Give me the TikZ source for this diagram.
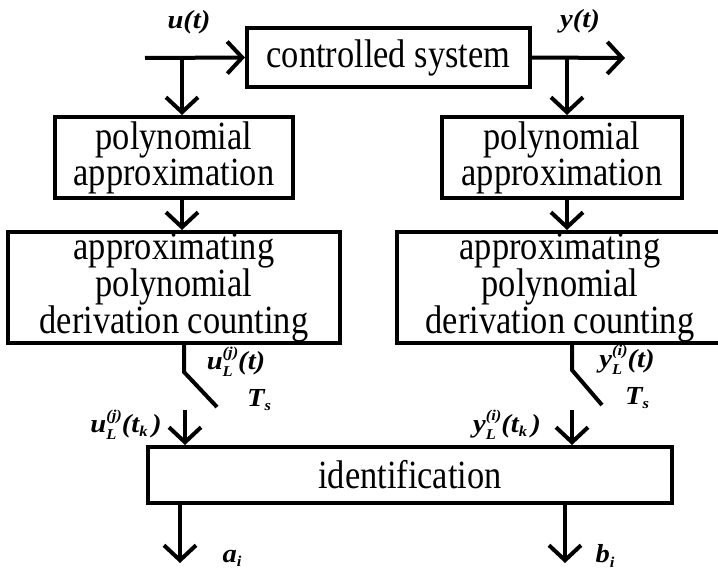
\documentclass[tikz,border=0pt]{standalone}
\usepackage{fontspec}
\setmainfont{Liberation Serif}
\newfontfamily\boxfont[FakeStretch=0.86]{Liberation Serif}
\newfontfamily\labfont[FakeStretch=1.1]{Liberation Serif}
\usetikzlibrary{arrows.meta}
\newcommand\smallsz{\fontsize{15}{15}\selectfont}
\newcommand\lsl[3]{#1\rlap{\raisebox{-0.6ex}{\smallsz #3}}\raisebox{1.0ex}{\smallsz #2}}
\newcommand\lsub[1]{\raisebox{-0.35ex}{\smallsz #1}}
\begin{document}
\begin{tikzpicture}[x=1pt,y=-1pt,
  line/.style={line width=4pt},
  arr/.style={line width=4pt,-{Straight Barb[length=15pt,width=32pt]}},
  blk/.style={draw,line width=4pt,inner sep=0pt,align=center,
    font=\boxfont\fontsize{40}{36}\selectfont},
  lab/.style={inner sep=0pt,font=\labfont\bfseries\itshape\fontsize{26}{28}\selectfont}]
\clip (0,0) rectangle (718,570);
% blocks
\node[blk,minimum width=283pt,minimum height=59pt] (sys) at (388.5,57.5) {controlled system};
\node[blk,minimum width=238pt,minimum height=81pt,font=\boxfont\fontsize{40}{33}\selectfont] (pl) at (174,157.5) {polynomial\\approximation};
\node[blk,minimum width=240pt,minimum height=81pt,font=\boxfont\fontsize{40}{33}\selectfont] (pr) at (562,157.5) {polynomial\\approximation};
\node[blk,minimum width=332pt,minimum height=111pt] (dl) at (174,287.5) {approximating\\polynomial\\derivation counting};
\node[blk,minimum width=326pt,minimum height=111pt] (dr) at (560,287.5) {approximating\\polynomial\\derivation counting};
\node[blk,minimum width=524pt,minimum height=56pt] (id) at (410,475) {identification};
% coordinates
\coordinate (uin) at (145,58);
\coordinate (uj) at (182,58);
\coordinate (yout) at (625,58);
\coordinate (yj) at (567,58);
\coordinate (swl1) at (184,372);
\coordinate (swl2) at (217,407);
\coordinate (al) at (185,410);
\coordinate (swr1) at (572,370);
\coordinate (swr2) at (602,405);
\coordinate (ar) at (572,410);
\coordinate (oa) at (180,563);
\coordinate (ob) at (565,563);
% connectors
\draw[arr] (uin) -- (sys.west);
\draw[arr] (uj) -- (uj |- pl.north);
\draw[arr] (sys.east) -- (yout);
\draw[arr] (yj) -- (yj |- pr.north);
\draw[arr] (pl.south -| uj) -- (dl.north -| uj);
\draw[arr] (pr.south -| yj) -- (dr.north -| yj);
\draw[line] (dl.south -| swl1) -- (swl1) -- (swl2);
\draw[line] (dr.south -| swr1) -- (swr1) -- (swr2);
\draw[arr] (al) -- (al |- id.north);
\draw[arr] (ar) -- (ar |- id.north);
\draw[arr] (id.south -| oa) -- (oa);
\draw[arr] (id.south -| ob) -- (ob);
% labels
\node[lab] (lu) at (189,22) {u(t)};
\node[lab] (ly) at (580,21) {y(t)};
\node[lab] (lul) at (236,362) {\lsl{u}{(j)}{L}(t)};
\node[lab] (lts1) at (259,400) {T\lsub{s}};
\node[lab] (lyl) at (627,360) {\lsl{y}{(i)}{L}(t)};
\node[lab] (lts2) at (637,398) {T\lsub{s}};
\node[lab] (lulk) at (126,425) {\lsl{u}{(j)}{L}(t\lsub{k}\,)};
\node[lab] (lylk) at (507,425) {\lsl{y}{(i)}{L}(t\lsub{k}\,)};
\node[lab] (la) at (232,558) {a\lsub{i}};
\node[lab] (lb) at (605,556) {b\lsub{i}};
\end{tikzpicture}
\end{document}
